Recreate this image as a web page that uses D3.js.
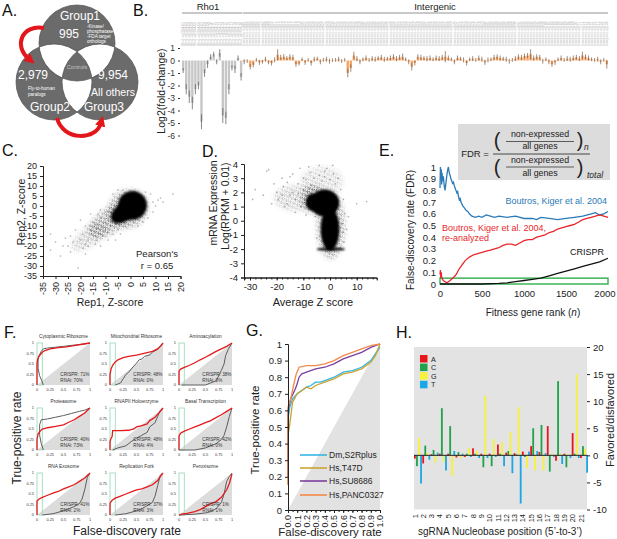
<!DOCTYPE html>
<html><head><meta charset="utf-8">
<script src="https://cdn.jsdelivr.net/npm/d3@7"></script>
<style>body{margin:0;background:#fff} svg{display:block;font-family:"Liberation Sans",Arial,sans-serif}</style>
</head><body><svg id="c" width="617" height="539"></svg>
<script>
// ================= DATA =================
// A. Venn
const vennLabels = ["Group1","Group2","Group3"];
const vennCounts = ["995","2,979","9,954"];
const vennNotes1 = ["-Kinase/","phosphatase","-FDA target","orthologs"];
const vennNotes2 = ["Fly-to-human","paralogs"];
const vennNotes3 = ["All others"];
const vennCenter = "Controls";

// B. log2 fold change per sgRNA
const bGroups = ["Rho1","Intergenic"];
const rhoVals = [-0.8,-2.3,-2.9,-3.4,-2.3,-2.0,-4.9,-1.0,-0.3,0.3,0.5,-0.1,0.6,-4.4,-4.6,-2.3,-0.6,-0.7,0.2,-1.3];
const rhoErr  = [0.2,0.4,0.5,0.5,0.4,0.3,0.6,0.3,0.3,0.2,0.2,0.2,0.3,0.6,0.5,0.4,0.2,0.3,0.2,0.3];
const intVals = [-0.1,-0.05,-0.5,-0.35,0.05,-0.15,-0.1,0.1,-0.15,-0.2,
 0.05,0.45,0.25,0.3,0.2,0.3,0.25,-0.3,-0.25,0.1,
 -0.15,0.05,-0.2,0.1,0.15,-0.1,0.05,0.1,-0.05,0.02,
 0.05,0.1,-0.05,0.05,-1.0,-0.6,0.4,0.15,-0.1,0.1,
 0.2,0.05,0.15,0.1,0.2,0.25,0.1,0.15,0.2,0.3,
 0.15,0.25,0.3,0.1,-0.1,-0.5,-0.2,0.3,0.25,0.2,
 0.15,0.2,0.1,0.2,0.15,0.25,0.3,0.2,0.1,-0.1,
 0.2,0.15,0.05,-0.2,0.1,0.15,0.05,0.2,0.1,-0.15,
 0.05,0.1,0.25,0.3,0.2,0.15,0.1,-0.05,0.05,0.15,
 0.3,0.25,0.35,0.4,0.5,0.2,0.3,0.25,-0.05,0.1,
 -0.1,-0.3,-0.15,0.1,0.2,0.05,0.15,0.1,0.2,0.25,
 0.15,0.4,0.3,0.2,0.1,0.05,0.1,-0.1,0.05,-0.3];
const intErr = [0.2,0.15,0.2,0.2,0.15,0.2,0.15,0.2,0.15,0.2,
 0.2,0.45,0.2,0.2,0.15,0.2,0.2,0.2,0.15,0.15,
 0.2,0.15,0.2,0.2,0.15,0.2,0.15,0.2,0.2,0.15,
 0.15,0.2,0.15,0.15,0.35,0.3,0.3,0.2,0.2,0.15,
 0.2,0.15,0.2,0.2,0.15,0.2,0.2,0.15,0.2,0.2,
 0.2,0.2,0.25,0.15,0.2,0.3,0.2,0.2,0.2,0.15,
 0.2,0.2,0.15,0.2,0.2,0.2,0.45,0.2,0.15,0.2,
 0.2,0.15,0.2,0.2,0.15,0.2,0.15,0.2,0.2,0.2,
 0.2,0.15,0.2,0.2,0.2,0.15,0.2,0.2,0.15,0.2,
 0.2,0.2,0.2,0.2,0.4,0.2,0.2,0.2,0.2,0.15,
 0.2,0.2,0.2,0.15,0.2,0.15,0.2,0.2,0.2,0.2,
 0.2,0.3,0.2,0.2,0.15,0.15,0.2,0.2,0.15,0.35];
const bTicks = [1,0,-1,-2,-3,-4,-5,-6];

// C. replicate Z-scores
const cTicks = [-35,-30,-25,-20,-15,-10,-5,0,5,10,15,20];
// point-density regions: [x, y, rx, ry, tilt, density]  (density > 1 = saturated)
const cClouds = [[-16,-15,9,4.5,-35,0.4],[-9,-8,9,6,-35,0.65],[-1,-1.5,8.3,9.2,-35,0.8],[-2.5,-3,6,4.5,-35,2],[0.8,0.3,5.8,7.2,-25,2]];
const cPoints = [[-32,-14],[-32,-22],[-24,-15],[-25,-20],[-24,-23],[-27,-20],[-21,-31],[-18,-24],[-13.5,-17],[-12,-20],[17,6],[12,4],[9,2],[-17,-17],[-15.5,-14],[-20,-7],[-14,-9.5],[-22,-12],[-19,-14],[-16,-12],[-18,-10],[-11,-15],[-9,-13],[-10,-8],[-8,-10],[-12,-6],[-7,-14],[-13,-11],[-15,-8],[-20,-17],[-17,-20],[-14,-15],[-11,-11],[-9,-6],[-6,-9],[-5,-12],[-8,-3],[-10,-3],[-12,-2],[-16,-4],[-7,6],[-5,8],[-3,8],[6,7],[8,6],[7,-6],[5,-8],[9,-3],[10,0],[-4,-14],[-2,-10],[3,-10],[-18,-19],[-23,-18],[-19,-21],[-14,-19],[-26,-16],[-9,-17],[-6,-17],[-13,-4],[-8,-8],[-10,-12],[-4,-7],[-12,-14],[-16,-10],[-6,-4],[-3,-6],[11,3],[13,2],[-28,-25],[-30,-18]];
const cPearson = "0.65";

// D. expression vs average Z
const dXTicks = [-30,-20,-10,0,10];
const dYTicks = [4,3,2,1,0,-1,-2,-3,-4];
const dClouds = [[-3,2.8,8,1.0,0,0.3],[-13,1.6,8,0.9,0,0.4],[-6,1.5,5,1.0,0,0.75],[0.3,-0.3,5.2,2.4,0,0.7],
  [-2,1.25,5.5,0.95,0,2],[-6.5,1.3,2.6,0.6,0,2],[0,-0.6,3.5,1.5,0,2],[0.3,-2,5.3,0.12,0,2]];
const dPoints = [[-29,1.5],[-28,2.2],[-23.7,3.5],[-23,3.6],[-19.4,1.5],[-21.9,1.2],[-17.5,2.4],[10,1.2],[13.7,1.35],[6.9,0.3],[6.2,-0.6],[-15,3.1],[-11.2,3.7],[-7.5,3.4],[-1.2,3.7],[1.3,3.3],[-20,2.0],[-18,1.8],[-16,1.2],[-14,2.0],[-13,1.5],[-12,2.6],[-11,1.0],[-10,2.2],[-9,2.9],[-8,1.8],[-7,2.5],[-6,3.0],[-5,2.2],[-4,3.2],[-3,2.8],[-2,3.1],[0,2.9],[2,2.6],[3,3.0],[4,2.2],[5,1.5],[5.5,0.5],[5,-0.8],[5.2,-1.5],[-5,-1.2],[-5.5,0.3],[-6.5,0.9],[-18,3.0],[-16,2.7],[-14,3.3],[-10,3.0],[-8,3.8],[-4,3.9],[-2,3.5],[1,3.9],[-21,2.6],[-25,1.8],[-13,0.6],[-9,0.4],[-15,1.8],[-12,1.9],[-17,1.0],[3.8,-1.9],[4.6,-0.2]];

// E. FDR vs fitness gene rank
const eNames = ["Boutros, Kiger et al. 2004","Boutros, Kiger et al. 2004,","re-analyzed","CRISPR"];
const eBlue = [[0,0.82],[5,1.0],[10,0.9],[15,0.98],[20,0.85],[25,0.95],[30,0.88],[40,0.92],[50,0.84],[60,0.8],[70,0.86],[80,0.92],[90,0.97],[100,1.0],[110,0.95],[120,0.93],[130,0.9],[140,0.88],[150,0.86],[160,0.87],[170,0.84],[180,0.82],[190,0.8],[200,0.78],[210,0.79],[220,0.75],[230,0.72],[240,0.73],[250,0.7],[270,0.67],[290,0.65],[310,0.63],[330,0.62],[350,0.6],[380,0.58],[420,0.57],[460,0.58],[500,0.57],[550,0.59],[600,0.58],[650,0.57],[700,0.58],[800,0.57],[900,0.58],[1000,0.56],[1100,0.56],[1150,0.55],[1200,0.57],[1300,0.56],[1400,0.55],[1500,0.56],[1600,0.57],[1700,0.58],[1800,0.6],[1850,0.61],[1900,0.59],[1950,0.6],[2000,0.62]];
const eRed = [[0,0.08],[5,0.12],[10,0.05],[15,0.1],[20,0.06],[30,0.04],[40,0.03],[60,0.02],[80,0.01],[100,0.02],[120,0.03],[150,0.05],[180,0.07],[200,0.09],[220,0.12],[250,0.15],[280,0.18],[300,0.2],[350,0.23],[400,0.25],[450,0.26],[500,0.27],[550,0.28],[600,0.29],[650,0.3],[700,0.31],[750,0.33],[800,0.34],[850,0.34],[900,0.33],[950,0.35],[1000,0.37],[1050,0.38],[1100,0.38],[1150,0.4],[1200,0.41],[1250,0.42],[1300,0.44],[1350,0.45],[1400,0.47],[1450,0.48],[1500,0.49],[1550,0.5],[1600,0.51],[1650,0.53],[1700,0.55],[1750,0.56],[1800,0.57],[1850,0.58],[1900,0.59],[1950,0.58],[2000,0.57]];
const eBlack = [[0,0],[500,0],[700,0.005],[800,0.01],[900,0.02],[1000,0.03],[1100,0.04],[1200,0.05],[1300,0.07],[1400,0.09],[1500,0.11],[1600,0.13],[1700,0.15],[1800,0.17],[1900,0.19],[2000,0.22]];
const eXTicks = [0,500,1000,1500,2000];
const eYTicks = [0,0.1,0.2,0.3,0.4,0.5,0.6,0.7,0.8,0.9,1];
const eBox = [0,2000,0,0.05];

// F. ROC per complex
const fTitles = ["Cytoplasmic Ribosome","Mitochondrial Ribosome","Aminoacylation","Proteasome","RNAPII Holoenzyme","Basal Transcription","RNA Exosome","Replication Fork","Peroxisome"];
const fCrispr = ["71%","48%","38%","40%","48%","42%","41%","37%","1%"];
const fRnai = ["70%","0%","0%","73%","4%","0%","2%","3%","1%"];
const fRed = [
 [[0,0],[0,0.5],[0.01,0.6],[0.03,0.67],[0.06,0.72],[0.1,0.78],[0.15,0.82],[0.25,0.86],[0.4,0.89],[0.55,0.91],[0.7,0.94],[0.85,0.97],[1,1]],
 [[0,0],[0,0.25],[0.02,0.38],[0.05,0.47],[0.1,0.55],[0.15,0.6],[0.25,0.65],[0.35,0.68],[0.5,0.71],[0.6,0.74],[0.7,0.77],[0.8,0.8],[0.9,0.86],[0.95,0.92],[1,1]],
 [[0,0],[0,0.33],[0.03,0.38],[0.1,0.42],[0.2,0.47],[0.3,0.53],[0.4,0.6],[0.5,0.66],[0.6,0.73],[0.7,0.8],[0.8,0.86],[0.9,0.92],[1,1]],
 [[0,0],[0,0.25],[0.02,0.38],[0.06,0.45],[0.1,0.5],[0.2,0.53],[0.35,0.56],[0.5,0.6],[0.6,0.66],[0.7,0.72],[0.8,0.8],[0.9,0.88],[1,1]],
 [[0,0],[0,0.2],[0.02,0.28],[0.04,0.32],[0.05,0.46],[0.2,0.46],[0.35,0.47],[0.45,0.5],[0.5,0.55],[0.6,0.58],[0.7,0.62],[0.75,0.7],[0.85,0.78],[0.95,0.92],[1,1]],
 [[0,0],[0,0.33],[0.03,0.4],[0.1,0.45],[0.2,0.5],[0.3,0.55],[0.4,0.6],[0.5,0.65],[0.6,0.7],[0.7,0.77],[0.8,0.84],[0.9,0.92],[1,1]],
 [[0,0],[0,0.33],[0.04,0.38],[0.1,0.42],[0.2,0.47],[0.3,0.52],[0.4,0.56],[0.5,0.62],[0.6,0.67],[0.7,0.72],[0.8,0.8],[0.9,0.88],[1,1]],
 [[0,0],[0,0.28],[0.04,0.35],[0.1,0.4],[0.2,0.45],[0.3,0.5],[0.4,0.55],[0.5,0.6],[0.6,0.62],[0.7,0.67],[0.8,0.72],[0.9,0.82],[0.95,0.92],[1,1]],
 [[0,0],[0.05,0.02],[0.15,0.04],[0.3,0.08],[0.4,0.13],[0.5,0.2],[0.6,0.27],[0.7,0.32],[0.8,0.42],[0.9,0.6],[0.95,0.75],[1,0.98]]
];
const fGray = [
 [[0.12,0],[0.09,0.1],[0.05,0.22],[0.02,0.4],[0.02,0.6],[0.04,0.7],[0.08,0.8],[0.12,0.86],[0.2,0.88],[0.35,0.9],[0.5,0.92],[0.7,0.95],[0.85,0.97],[1,1]],
 [[0.1,0],[0.2,0.05],[0.25,0.15],[0.3,0.25],[0.35,0.3],[0.4,0.38],[0.45,0.45],[0.5,0.52],[0.55,0.6],[0.6,0.62],[0.65,0.68],[0.75,0.72],[0.8,0.78],[0.9,0.85],[1,1]],
 [[0.05,0],[0.5,0],[0.6,0.05],[0.7,0.1],[0.75,0.22],[0.8,0.35],[0.85,0.5],[0.88,0.7],[0.93,0.85],[1,1]],
 [[0.12,0],[0.08,0.15],[0.05,0.35],[0.05,0.6],[0.08,0.72],[0.2,0.74],[0.35,0.78],[0.5,0.82],[0.65,0.87],[0.8,0.92],[0.9,0.95],[1,1]],
 [[0.05,0],[0.15,0.05],[0.3,0.1],[0.4,0.2],[0.5,0.28],[0.6,0.35],[0.7,0.42],[0.75,0.55],[0.85,0.65],[0.9,0.8],[0.95,0.95],[1,1]],
 [[0,0],[0.3,0],[0.5,0.05],[0.6,0.1],[0.7,0.15],[0.8,0.25],[0.85,0.35],[0.9,0.55],[0.95,0.8],[1,1]],
 [[0.1,0],[0.3,0.03],[0.5,0.1],[0.6,0.15],[0.7,0.2],[0.8,0.27],[0.85,0.38],[0.9,0.6],[0.95,0.9],[1,1]],
 [[0.1,0],[0.3,0.03],[0.5,0.1],[0.6,0.15],[0.7,0.22],[0.8,0.3],[0.85,0.45],[0.9,0.7],[0.95,0.95],[1,1]],
 [[0,0],[0.3,0.02],[0.5,0.05],[0.6,0.08],[0.7,0.15],[0.8,0.3],[0.85,0.5],[0.9,0.8],[0.95,0.92],[1,1]]
];
const fTicks = [0,0.25,0.5,0.75,1];
const fWindow = 0.1;

// G. ROC per cell line
const gNames = ["Dm,S2Rplus","Hs,T47D","Hs,SU8686","Hs,PANC0327"];
const gCurves = [
 [[0,0.2],[0,0.55],[0.02,0.62],[0.05,0.67],[0.1,0.7],[0.15,0.72],[0.2,0.74],[0.25,0.75],[0.3,0.77],[0.35,0.77],[0.4,0.78],[0.5,0.8],[0.6,0.83],[0.7,0.84],[0.8,0.86],[0.9,0.9],[0.95,0.94],[1,0.98]],
 [[0,0.15],[0,0.45],[0.02,0.52],[0.05,0.65],[0.1,0.7],[0.15,0.72],[0.2,0.74],[0.25,0.73],[0.3,0.75],[0.4,0.77],[0.5,0.79],[0.6,0.82],[0.7,0.83],[0.8,0.85],[0.9,0.89],[0.95,0.93],[1,1]],
 [[0,0.2],[0,0.6],[0.03,0.67],[0.08,0.73],[0.1,0.76],[0.12,0.8],[0.15,0.82],[0.2,0.83],[0.3,0.85],[0.4,0.86],[0.5,0.88],[0.6,0.91],[0.7,0.93],[0.8,0.95],[0.9,0.98],[1,1]],
 [[0,0.15],[0,0.62],[0.03,0.67],[0.06,0.75],[0.09,0.82],[0.12,0.86],[0.2,0.87],[0.3,0.87],[0.4,0.88],[0.5,0.9],[0.6,0.93],[0.7,0.95],[0.8,0.97],[0.9,0.99],[1,1]]
];
const gTicks = [0,0.1,0.2,0.3,0.4,0.5,0.6,0.7,0.8,0.9,1];

// H. nucleotide preference per position
const hPositions = [1,2,3,4,5,6,7,8,9,10,11,12,13,14,15,16,17,18,19,20,21];
const hBases = ["A","C","G","T"];
const hA = [-0.6,-1.5,0.2,0.3,0.3,-0.4,-0.3,1.3,0.3,0.3,2.0,0.5,0.4,0.7,1.7,0.6,5.4,-1.0,0.3,4.1,-0.5];
const hC = [-2.0,1.8,1.0,8.7,5.4,0.6,0.3,0.3,-2.2,-2.0,0.3,0.8,0.2,-0.3,5.0,5.6,-3.0,13.7,-2.2,0.3,1.7];
const hG = [3.2,0.5,-1.3,-1.2,-3.8,-0.5,1.3,0.8,11.0,3.0,2.5,4.3,8.9,-2.3,-2.8,-2.8,0.3,0.3,0.2,15.0,1.2];
const hT = [-5.2,-0.8,0.5,-2.8,0.8,0.3,-0.3,-0.5,-0.5,-0.3,-2.0,-3.3,-8.9,0.7,0.8,0.4,-0.3,-1.6,-0.5,-0.5,-3.2];
const hTicks = [20,15,10,5,0,-5,-10];

// ================= DRAW =================
const svg = d3.select("#c");
const FF = '"Liberation Sans", Arial, sans-serif';
function txt(g,x,y,s,size,o={}){
  const t=g.append("text").attr("x",x).attr("y",y).text(s).attr("font-size",size).attr("font-family",FF);
  if(o.anchor) t.attr("text-anchor",o.anchor);
  t.attr("fill",o.fill||"#222");
  if(o.rotate!=null) t.attr("transform",`rotate(${o.rotate},${x},${y})`);
  if(o.italic) t.attr("font-style","italic");
  return t;
}
function styleAxis(g,size,col){
  g.attr("font-family",FF).attr("font-size",size);
  g.selectAll("text").attr("fill",col||"#222");
  g.selectAll("line,path").attr("stroke",col||"#222");
}
const defs = svg.append("defs");
[["bl2",1.1],["blm",2.4]].forEach(([id,s])=>{
  defs.append("filter").attr("id",id).attr("x","-50%").attr("y","-50%").attr("width","200%").attr("height","200%")
    .append("feGaussianBlur").attr("stdDeviation",s);
});
// speckle texture used to render dense scatter regions
const pat = defs.append("pattern").attr("id","speck").attr("patternUnits","userSpaceOnUse")
  .attr("width",4).attr("height",4).attr("patternTransform","rotate(23)");
[[0.7,0.8],[2.7,1.4],[1.5,3.1],[3.4,3.4],[2.0,0.4]].forEach(([cx,cy])=>pat.append("circle").attr("cx",cx).attr("cy",cy).attr("r",0.6).attr("fill","#000").attr("fill-opacity",0.75));
defs.append("marker").attr("id","arr").attr("viewBox","0 0 10 10").attr("refX",3).attr("refY",5)
  .attr("markerWidth",2.6).attr("markerHeight",2.6).attr("orient","auto")
  .append("path").attr("d","M0,0L10,5L0,10Z").attr("fill","#e3161b");

let maskId = 0;
function drawClouds(g, clouds, x, y, area){
  const sx = Math.abs(x(1)-x(0)), sy = Math.abs(y(0)-y(1));
  clouds.forEach(([cx,cy,rx,ry,a,den])=>{
    const px=x(cx), py=y(cy);
    if(den>1){
      g.append("ellipse").attr("cx",px).attr("cy",py).attr("rx",rx*sx).attr("ry",ry*sy)
        .attr("transform",`rotate(${a},${px},${py})`).attr("fill","#000").attr("filter","url(#bl2)");
    } else {
      const id="cm"+(maskId++);
      const m=defs.append("mask").attr("id",id).attr("maskUnits","userSpaceOnUse").attr("x",0).attr("y",0).attr("width",617).attr("height",539);
      m.append("ellipse").attr("cx",px).attr("cy",py).attr("rx",rx*sx).attr("ry",ry*sy)
        .attr("transform",`rotate(${a},${px},${py})`).attr("fill","#fff").attr("fill-opacity",den).attr("filter","url(#blm)");
      g.append("rect").attr("x",area[0]).attr("y",area[1]).attr("width",area[2]).attr("height",area[3])
        .attr("fill","url(#speck)").attr("mask",`url(#${id})`);
    }
  });
}

// panel letters
[["A.",2,16],["B.",133,16],["C.",2,156],["D.",202,157],["E.",379,156],["F.",4,338],["G.",246,336],["H.",396,338]]
  .forEach(([s,x,y])=>txt(svg,x,y,s,16,{fill:"#111"}));

// ---- A ----
{
  const g = svg.append("g");
  const vc=[[77,43],[54,82],[100,82]], r=38;
  let p="";
  vc.forEach(([cx,cy])=>{p+=`M${cx+r},${cy}A${r},${r} 0 1,1 ${cx-r},${cy}A${r},${r} 0 1,1 ${cx+r},${cy}Z`;});
  g.append("path").attr("d",p).attr("fill","#6b6b6b").attr("fill-rule","evenodd").attr("stroke","#4d4d4d").attr("stroke-width",0.7);
  txt(g,80,20,vennLabels[0],12,{anchor:"middle",fill:"#fff"});
  txt(g,50,111,vennLabels[1],12,{anchor:"middle",fill:"#fff"});
  txt(g,104,111,vennLabels[2],12,{anchor:"middle",fill:"#fff"});
  txt(g,69,38,vennCounts[0],12,{anchor:"middle",fill:"#fff"});
  txt(g,33,79,vennCounts[1],12,{anchor:"middle",fill:"#fff"});
  txt(g,113,79,vennCounts[2],12,{anchor:"middle",fill:"#fff"});
  vennNotes1.forEach((s,i)=>txt(g,87,28+i*5,s,4.6,{fill:"#fff"}));
  vennNotes2.forEach((s,i)=>txt(g,28,90+i*6,s,4.6,{fill:"#fff"}));
  txt(g,113,96,vennNotes3[0],10.5,{anchor:"middle",fill:"#fff"});
  txt(g,77,69,vennCenter,5.5,{anchor:"middle",fill:"#c4c4c4"});
  g.append("path").attr("d","M44,28 C22,24 13,46 29,59").attr("fill","none").attr("stroke","#e3161b").attr("stroke-width",4).attr("marker-end","url(#arr)");
  g.append("path").attr("d","M57,118 C63,141 96,141 101,123").attr("fill","none").attr("stroke","#e3161b").attr("stroke-width",4).attr("marker-end","url(#arr)");
}

// ---- B ----
{
  const g = svg.append("g");
  const rows = rhoVals.map((v,i)=>({id:"Rho1-sgRNA-"+String(i+1).padStart(2,"0"),v,e:rhoErr[i],grp:0}))
    .concat(intVals.map((v,i)=>({id:"Intergenic-sg"+String(i+1).padStart(3,"0"),v,e:intErr[i],grp:1})));
  const x = d3.scaleBand().domain(rows.map(d=>d.id)).range([182,608]).paddingInner(0.22);
  const y = d3.scaleLinear().domain([-6,1]).range([135.5,48]);
  const bw = x.bandwidth();
  rows.forEach(d=>{ txt(g,x(d.id)+bw/2+1.1,46,d.id,3.3,{fill:"#b3b3b3",rotate:-90}); });
  [0,1].forEach(k=>{
    const sub=rows.filter(d=>d.grp===k);
    const x0=x(sub[0].id), x1=x(sub[sub.length-1].id)+bw;
    g.append("line").attr("x1",x0).attr("x2",x1).attr("y1",13).attr("y2",13).attr("stroke","#777").attr("stroke-width",0.8);
    txt(g,k===0?208:435,10,bGroups[k],9.5,{anchor:"middle"});
  });
  g.selectAll("rect.b").data(rows).join("rect")
    .attr("x",d=>x(d.id)).attr("width",bw)
    .attr("y",d=>y(Math.max(0,d.v))).attr("height",d=>Math.abs(y(d.v)-y(0)))
    .attr("fill",d=>d.grp===0?"#c6c6c6":"#f3a467");
  g.selectAll("line.e").data(rows).join("line")
    .attr("x1",d=>x(d.id)+bw/2).attr("x2",d=>x(d.id)+bw/2)
    .attr("y1",d=>y(d.v-d.e)).attr("y2",d=>y(d.v+d.e))
    .attr("stroke",d=>d.grp===0?"#555":"#7a5a45").attr("stroke-width",0.7);
  const ax = g.append("g").attr("transform","translate(180,0)")
    .call(d3.axisLeft(y).tickValues(bTicks).tickSize(2).tickFormat(d=>String(d)));
  styleAxis(ax,8.5,"#333"); ax.select(".domain").remove();
  txt(g,165,91,"Log2(fold-change)",10.5,{anchor:"middle",rotate:-90});
}

// ---- C ----
{
  const g = svg.append("g");
  const x = d3.scaleLinear().domain([-35,20]).range([43,180.5]);
  const y = d3.scaleLinear().domain([-35,20]).range([276,166]);
  drawClouds(g,cClouds,x,y,[44,166,137,110]);
  g.selectAll("circle").data(cPoints).join("circle").attr("cx",d=>x(d[0])).attr("cy",d=>y(d[1])).attr("r",0.85)
    .attr("fill","#000").attr("opacity",0.3);
  const ay = g.append("g").attr("transform","translate(43,0)").call(d3.axisLeft(y).tickValues(cTicks).tickSize(3).tickFormat(d=>String(d)));
  styleAxis(ay,9);
  const axb = g.append("g").attr("transform","translate(0,276)").call(d3.axisBottom(x).tickValues(cTicks).tickSize(3).tickFormat(d=>String(d)));
  styleAxis(axb,9);
  axb.selectAll("text").attr("transform","rotate(-90)").attr("text-anchor","end").attr("dy","0.32em").attr("x",-6).attr("y",0);
  txt(g,110,306,"Rep1, Z-score",10.5,{anchor:"middle"});
  txt(g,25,212,"Rep2, Z-score",10.5,{anchor:"middle",rotate:-90});
  txt(g,157,257,"Pearson's",9.5,{anchor:"middle"});
  txt(g,157,269,"r = "+cPearson,9.5,{anchor:"middle"});
}

// ---- D ----
{
  const g = svg.append("g");
  const x = d3.scaleLinear().domain([-32.25,17.5]).range([244,376.7]);
  const y = d3.scaleLinear().domain([-4,4]).range([277.5,164]);
  drawClouds(g,dClouds,x,y,[245,164,132,113]);
  g.selectAll("circle").data(dPoints).join("circle").attr("cx",d=>x(d[0])).attr("cy",d=>y(d[1])).attr("r",0.85)
    .attr("fill","#000").attr("opacity",0.3);
  const ay=g.append("g").attr("transform","translate(244,0)").call(d3.axisLeft(y).tickValues(dYTicks).tickSize(3).tickFormat(d=>String(d)));
  styleAxis(ay,9.5);
  const minor = d3.range(-32,18,2);
  const axm=g.append("g").attr("transform","translate(0,277.5)").call(d3.axisBottom(x).tickValues(minor).tickSize(2).tickFormat(""));
  styleAxis(axm,9.5);
  const axb=g.append("g").attr("transform","translate(0,277.5)").call(d3.axisBottom(x).tickValues(dXTicks).tickSize(3).tickFormat(d=>String(d)));
  styleAxis(axb,9.5);
  txt(g,313,306,"Average Z score",11,{anchor:"middle"});
  txt(g,217,203,"mRNA Expression",10.5,{anchor:"middle",rotate:-90});
  txt(g,229,206,"Log(RPKM + 0.01)",10.5,{anchor:"middle",rotate:-90});
}

// ---- E ----
{
  const g = svg.append("g");
  const x = d3.scaleLinear().domain([0,2000]).range([440,608]);
  const y = d3.scaleLinear().domain([0,1]).range([284,167]);
  g.append("rect").attr("x",458).attr("y",124).attr("width",152).attr("height",56).attr("fill","#dcdcdc");
  txt(g,475,157,"FDR =",9.5,{anchor:"middle"});
  g.append("line").attr("x1",493).attr("x2",590).attr("y1",154).attr("y2",154).attr("stroke","#222").attr("stroke-width",0.8);
  [[137,141.5,149,147],[163,167,175.5,174]].forEach(([t1,ln,t2,pb])=>{
    txt(g,540,t1,"non-expressed",8.8,{anchor:"middle"});
    g.append("line").attr("x1",506).attr("x2",574).attr("y1",ln).attr("y2",ln).attr("stroke","#222").attr("stroke-width",0.7);
    txt(g,540,t2,"all genes",8.8,{anchor:"middle"});
    txt(g,497,pb,"(",20,{anchor:"middle"});
    txt(g,580,pb,")",20,{anchor:"middle"});
  });
  txt(g,584,150,"n",8.5,{italic:true});
  txt(g,587,178,"total",8.5,{italic:true});
  g.append("rect").attr("x",x(eBox[0])).attr("y",y(eBox[3])).attr("width",x(eBox[1])-x(eBox[0])).attr("height",y(eBox[2])-y(eBox[3]))
    .attr("fill","none").attr("stroke","#2fae4e").attr("stroke-width",1.4);
  const line = d3.line().x(d=>x(d[0])).y(d=>y(d[1]));
  [[eBlue,"#2a7ab8"],[eRed,"#e8262b"],[eBlack,"#111"]].forEach(([d,c])=>{
    g.append("path").attr("d",line(d)).attr("fill","none").attr("stroke",c).attr("stroke-width",1.3);
  });
  txt(g,607,204,eNames[0],9,{anchor:"end",fill:"#2a7ab8"});
  txt(g,442,231,eNames[1],9,{fill:"#e8262b"});
  txt(g,442,241,eNames[2],9,{fill:"#e8262b"});
  txt(g,604,255,eNames[3],9,{anchor:"end",fill:"#111"});
  const ay=g.append("g").attr("transform","translate(440,0)").call(d3.axisLeft(y).tickValues(eYTicks).tickSize(0).tickPadding(4).tickFormat(d=>String(d)));
  styleAxis(ay,9.5); ay.select(".domain").remove();
  const ab=g.append("g").attr("transform","translate(0,287)").call(d3.axisBottom(x).tickValues(eXTicks).tickSize(0).tickPadding(3).tickFormat(d=>String(d)));
  styleAxis(ab,9.5); ab.select(".domain").remove();
  ab.selectAll(".tick text").filter(d=>d===2000).attr("text-anchor","end").attr("dx","7");
  const t=txt(g,533,316,"Fitness gene rank (",10,{anchor:"middle"});
  t.append("tspan").attr("font-style","italic").text("n"); t.append("tspan").text(")");
  txt(g,414,230,"False-discovery rate (FDR)",10,{anchor:"middle",rotate:-90});
}

// ---- F ----
{
  const g = svg.append("g");
  const cols=[37,110,179], rowsY=[343,408,473], W=53, H=42;
  fTitles.forEach((title,i)=>{
    const x0=cols[i%3], y0=rowsY[Math.floor(i/3)];
    const x=d3.scaleLinear().domain([0,1]).range([x0,x0+W]);
    const y=d3.scaleLinear().domain([0,1]).range([y0+H,y0]);
    const sg=g.append("g");
    sg.append("path").attr("d",`M${x(0)},${y(0)}L${x(1)},${y(0)}L${x(1)},${y(1)}Z`).attr("fill","#dcdcdc");
    sg.append("rect").attr("x",x(0)).attr("y",y(1)).attr("width",x(fWindow)-x(0)).attr("height",y(0)-y(1))
      .attr("fill","none").attr("stroke","#9fdcbc").attr("stroke-width",0.9);
    const line=d3.line().x(d=>x(d[0])).y(d=>y(d[1]));
    sg.append("path").attr("d",line(fGray[i])).attr("fill","none").attr("stroke","#5e5e5e").attr("stroke-width",1);
    sg.append("path").attr("d",line(fRed[i])).attr("fill","none").attr("stroke","#e41a1c").attr("stroke-width",1.3);
    txt(sg,x(0.5),y0-5,title,4.8,{anchor:"middle",fill:"#333"});
    txt(sg,x(0.44),y(0.22),"CRISPR: "+fCrispr[i],4.6,{fill:"#333"});
    txt(sg,x(0.44),y(0.08),"RNAi: "+fRnai[i],4.6,{fill:"#333"});
    fTicks.forEach(v=>{
      txt(sg,x0-3,y(v)+1.4,String(v),3.9,{anchor:"end",fill:"#333"});
      txt(sg,x(v),y0+H+5.5,String(v),3.9,{anchor:"middle",fill:"#333"});
    });
  });
  txt(g,21,438,"True-positive rate",12,{anchor:"middle",rotate:-90});
  txt(g,127,535,"False-discovery rate",12,{anchor:"middle"});
}

// ---- G ----
{
  const g = svg.append("g");
  const x=d3.scaleLinear().domain([0,1]).range([288,380]);
  const y=d3.scaleLinear().domain([0,1]).range([510,344]);
  g.append("path").attr("d",`M${x(0)},${y(0)}L${x(1)},${y(0)}L${x(1)},${y(1)}Z`).attr("fill","#e2e2e2");
  const cols=["#35b5e5","#c9a431","#7b3f9f","#f28a4a"];
  const line=d3.line().x(d=>x(d[0])).y(d=>y(d[1]));
  gCurves.forEach((c,i)=>g.append("path").attr("d",line(c)).attr("fill","none").attr("stroke",cols[i]).attr("stroke-width",1.3));
  const ay=g.append("g").attr("transform","translate(288,0)").call(d3.axisLeft(y).tickValues(gTicks).tickSize(3).tickFormat(d=>String(d)));
  styleAxis(ay,9.5);
  const am=g.append("g").attr("transform","translate(0,510)").call(d3.axisBottom(x).tickValues(d3.range(0,1.001,0.05)).tickSize(2).tickFormat(""));
  styleAxis(am,9);
  const ab=g.append("g").attr("transform","translate(0,510)").call(d3.axisBottom(x).tickValues(gTicks).tickSize(3).tickFormat(d3.format(".1f")));
  styleAxis(ab,9);
  ab.selectAll("text").attr("transform","rotate(-90)").attr("text-anchor","end").attr("dy","0.32em").attr("x",-5).attr("y",0);
  gNames.forEach((n,i)=>{
    const yy=[455,468,481,495][i];
    g.append("line").attr("x1",300).attr("x2",327).attr("y1",yy).attr("y2",yy).attr("stroke",cols[i]).attr("stroke-width",1.6);
    txt(g,329,yy+3,n,8.5);
  });
  txt(g,259,430,"True-positive rate",11.5,{anchor:"middle",rotate:-90});
  txt(g,330,536,"False-discovery rate",11.5,{anchor:"middle"});
}

// ---- H ----
{
  const g = svg.append("g");
  const y=d3.scaleLinear().domain([-10,20]).range([509.5,347]);
  const xo=d3.scaleBand().domain(hPositions).range([414,588]).paddingInner(0.04);
  const xi=d3.scaleBand().domain(hBases).range([0,xo.bandwidth()]).paddingInner(0.12);
  g.append("rect").attr("x",414).attr("y",347).attr("width",173).attr("height",162.5).attr("fill","#e3e3e3");
  const cols={A:"#e8161b",C:"#1fa34a",G:"#f6f23a",T:"#1ba6e6"};
  const series={A:hA,C:hC,G:hG,T:hT};
  hBases.forEach(b=>{
    g.selectAll("rect.h"+b).data(series[b].map((v,i)=>({p:hPositions[i],v}))).join("rect")
      .attr("x",d=>xo(d.p)+xi(b)).attr("width",xi.bandwidth())
      .attr("y",d=>y(Math.max(0,d.v))).attr("height",d=>Math.abs(y(d.v)-y(0))).attr("fill",cols[b]);
  });
  g.append("line").attr("x1",414).attr("x2",587).attr("y1",y(0)).attr("y2",y(0)).attr("stroke","#222").attr("stroke-width",1);
  const ay=g.append("g").attr("transform","translate(587,0)").call(d3.axisRight(y).tickValues(hTicks).tickSize(3).tickFormat(d=>String(d)));
  styleAxis(ay,9.5); ay.select(".domain").remove();
  hPositions.forEach(p=>txt(g,xo(p)+3.5,514,String(p),7.5,{anchor:"end",rotate:-90}));
  hBases.forEach((b,i)=>{
    g.append("rect").attr("x",420).attr("y",355+i*8.6).attr("width",7.5).attr("height",7.5).attr("fill",cols[b]);
    txt(g,431,361.5+i*8.6,b,7.2);
  });
  txt(g,500,535,"sgRNA Nucleobase position (5\u2019-to-3\u2019)",10,{anchor:"middle"});
  txt(g,614,420,"Favored/disfavored",11,{anchor:"middle",rotate:-90});
}
</script></body></html>
